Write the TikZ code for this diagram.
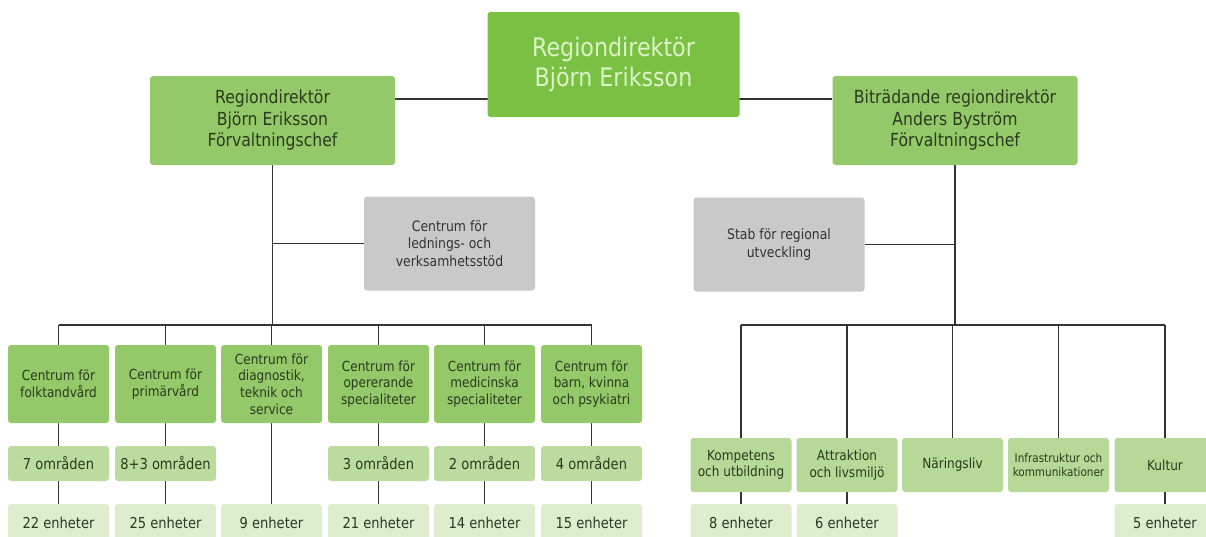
\documentclass[tikz,border=0pt]{standalone}
\usepackage{fontspec}
\setmainfont{DejaVu Sans}[FakeStretch=0.87]
\usetikzlibrary{backgrounds}
\definecolor{topgreen}{HTML}{7AC143}
\definecolor{toptext}{HTML}{DDF3C8}
\definecolor{midgreen}{HTML}{94C969}
\definecolor{lightgreen}{HTML}{BCDC9F}
\definecolor{rgreen}{HTML}{B7D997}
\definecolor{palegreen}{HTML}{DDEDCE}
\definecolor{greybox}{HTML}{C9C9C9}
\definecolor{darktext}{HTML}{2B3A1F}
\definecolor{linecol}{HTML}{333333}
\tikzset{
  box/.style={rectangle, rounded corners=3pt, align=center, inner sep=0pt, text=darktext},
  topbox/.style={box, fill=topgreen, text=toptext, minimum width=252pt, minimum height=105pt, font=\fontsize{25.5}{30}\selectfont},
  headbox/.style={box, fill=midgreen, minimum width=245pt, minimum height=89pt, font=\fontsize{18}{21.5}\selectfont},
  greyboxst/.style={box, fill=greybox, text=black!80, minimum width=171pt, minimum height=94pt, font=\fontsize{14.3}{17.5}\selectfont},
  centbox/.style={box, fill=midgreen, minimum width=101pt, minimum height=78pt, font=\fontsize{13.9}{16.7}\selectfont},
  omrbox/.style={box, fill=lightgreen, minimum width=101pt, minimum height=35pt, font=\fontsize{15}{18}\selectfont},
  enhbox/.style={box, fill=palegreen, minimum width=101pt, minimum height=38pt, font=\fontsize{15}{18}\selectfont},
  rbox/.style={box, fill=rgreen, minimum width=101pt, minimum height=54pt, font=\fontsize{13.9}{16.7}\selectfont},
  conn/.style={draw=linecol, line width=1.8pt}
}
\begin{document}
\begin{tikzpicture}[x=1pt,y=-1pt]
\clip (0,0) rectangle (1206,536);
% top levels
\node[topbox] (top) at (613.5,64.5) {Regiondirektör\\Björn Eriksson};
\node[headbox] (L1) at (272.5,120.5) {Regiondirektör\\Björn Eriksson\\Förvaltningschef};
\node[headbox] (R1) at (955,120.5) {Biträdande regiondirektör\\Anders Byström\\Förvaltningschef};
\node[greyboxst] (G1) at (449.5,243.5) {Centrum för\\lednings- och\\verksamhetsstöd};
\node[greyboxst] (G2) at (779,244.5) {Stab för regional\\utveckling};
% left children
\node[centbox] (C1) at (58.5,384) {Centrum för\\folktandvård};
\node[centbox] (C2) at (165.5,384) {Centrum för\\primärvård};
\node[centbox] (C3) at (271.5,384) {Centrum för\\diagnostik,\\teknik och\\service};
\node[centbox] (C4) at (378.5,384) {Centrum för\\opererande\\specialiteter};
\node[centbox] (C5) at (484.5,384) {Centrum för\\medicinska\\specialiteter};
\node[centbox] (C6) at (591.5,384) {Centrum för\\barn, kvinna\\och psykiatri};
\node[omrbox] (O1) at (58.5,463.5) {7 områden};
\node[omrbox] (O2) at (165.5,463.5) {8+3 områden};
\node[omrbox] (O4) at (378.5,463.5) {3 områden};
\node[omrbox] (O5) at (484.5,463.5) {2 områden};
\node[omrbox] (O6) at (591.5,463.5) {4 områden};
\node[enhbox] (E1) at (58.5,523) {22 enheter};
\node[enhbox] (E2) at (165.5,523) {25 enheter};
\node[enhbox] (E3) at (271.5,523) {9 enheter};
\node[enhbox] (E4) at (378.5,523) {21 enheter};
\node[enhbox] (E5) at (484.5,523) {14 enheter};
\node[enhbox] (E6) at (591.5,523) {15 enheter};
% right children
\node[rbox] (K1) at (741,465) {Kompetens\\och utbildning};
\node[rbox] (K2) at (847,465) {Attraktion\\och livsmiljö};
\node[rbox] (K3) at (952.5,465) {Näringsliv};
\node[rbox, font=\fontsize{12}{14.5}\selectfont] (K4) at (1058.5,465) {Infrastruktur och\\kommunikationer};
\node[rbox] (K5) at (1165,465) {Kultur};
\node[enhbox] (F1) at (741,523) {8 enheter};
\node[enhbox] (F2) at (847,523) {6 enheter};
\node[enhbox] (F5) at (1165,523) {5 enheter};
% helper coordinates
\coordinate (hy) at (0,99);
\coordinate (busL) at (0,325);
\coordinate (busR) at (0,325);
\begin{pgfonlayer}{background}
\fill[white] (0,0) rectangle (1206,536);
\draw[conn] (L1.east |- hy) -- (R1.west |- hy);
\draw[conn] (L1.south) -- (L1.south |- busL);
\draw[conn] (L1.south |- G1.west) -- (G1.west);
\draw[conn] (C1.north |- busL) -- (C6.north |- busL);
\foreach \c in {C1,C2,C3,C4,C5,C6} {\draw[conn] (\c.north |- busL) -- (\c.north);}
\draw[conn] (C1.south) -- (O1.north) (O1.south) -- (E1.north);
\draw[conn] (C2.south) -- (O2.north) (O2.south) -- (E2.north);
\draw[conn] (C3.south) -- (E3.north);
\draw[conn] (C4.south) -- (O4.north) (O4.south) -- (E4.north);
\draw[conn] (C5.south) -- (O5.north) (O5.south) -- (E5.north);
\draw[conn] (C6.south) -- (O6.north) (O6.south) -- (E6.north);
\draw[conn] (R1.south) -- (R1.south |- busR);
\draw[conn] (R1.south |- G2.east) -- (G2.east);
\draw[conn] (K1.north |- busR) -- (K5.north |- busR);
\foreach \c in {K1,K2,K3,K4,K5} {\draw[conn] (\c.north |- busR) -- (\c.north);}
\draw[conn] (K1.south) -- (F1.north);
\draw[conn] (K2.south) -- (F2.north);
\draw[conn] (K5.south) -- (F5.north);
\end{pgfonlayer}
\end{tikzpicture}
\end{document}
